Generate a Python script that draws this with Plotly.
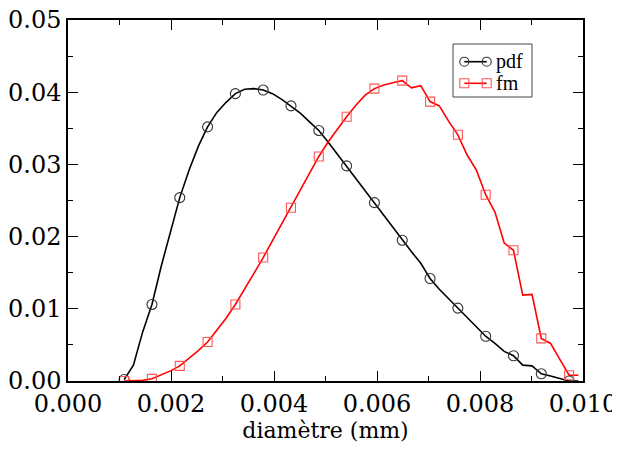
import plotly.graph_objects as go

# diameter grid (mm)
diam = [0.00109, 0.00127, 0.00145, 0.00163, 0.00181, 0.00199, 0.00217, 0.00235, 0.00253, 0.00271,
        0.00289, 0.00307, 0.00325, 0.00343, 0.00361, 0.00379, 0.00397, 0.00415, 0.00433, 0.00451,
        0.00469, 0.00487, 0.00505, 0.00523, 0.00541, 0.00559, 0.00577, 0.00595, 0.00613, 0.00631,
        0.00649, 0.00667, 0.00685, 0.00703, 0.00721, 0.00739, 0.00757, 0.00775, 0.00793, 0.00811,
        0.00829, 0.00847, 0.00865, 0.00883, 0.00901, 0.00919, 0.00937, 0.00955, 0.00973, 0.00991]

pdf = [0.0002, 0.0022, 0.0068, 0.0106, 0.0159, 0.0208, 0.0254, 0.0292, 0.0325, 0.0352,
       0.0372, 0.0386, 0.0398, 0.0404, 0.0405, 0.0403, 0.0398, 0.0390, 0.0381, 0.0371,
       0.0359, 0.0347, 0.0331, 0.0314, 0.0298, 0.0280, 0.0263, 0.0247, 0.0230, 0.0212,
       0.0195, 0.0179, 0.0163, 0.0142, 0.0127, 0.0114, 0.0101, 0.0087, 0.0074, 0.0062,
       0.0052, 0.0041, 0.0035, 0.0022, 0.0021, 0.0010, 0.0007, 0.0003, 0.0000, 0.0000]

fm = [0.0000, 0.0000, 0.0001, 0.0003, 0.0008, 0.0014, 0.0021, 0.0031, 0.0042, 0.0054,
      0.0070, 0.0087, 0.0106, 0.0127, 0.0149, 0.0171, 0.0194, 0.0217, 0.0240, 0.0264,
      0.0288, 0.0311, 0.0331, 0.0349, 0.0366, 0.0382, 0.0396, 0.0405, 0.0410, 0.0413,
      0.0416, 0.0406, 0.0409, 0.0387, 0.0381, 0.0360, 0.0341, 0.0313, 0.0292, 0.0258,
      0.0234, 0.0191, 0.0181, 0.0119, 0.0120, 0.0059, 0.0052, 0.0030, 0.0008, 0.0008]

series_names = ["pdf", "fm"]
x_ticks = [0.000, 0.002, 0.004, 0.006, 0.008, 0.010]
x_ticklabels = ["0.000", "0.002", "0.004", "0.006", "0.008", "0.010"]
y_ticks = [0.00, 0.01, 0.02, 0.03, 0.04, 0.05]
y_ticklabels = ["0.00", "0.01", "0.02", "0.03", "0.04", "0.05"]
x_title = "diamètre (mm)"

FONT = "Liberation Serif"
TICKFONT = "DejaVu Serif"
RED = "#ff0000"

fig = go.Figure()
# lines
fig.add_trace(go.Scatter(x=diam, y=pdf, mode="lines", line=dict(color="black", width=1.6),
                         hoverinfo="skip"))
fig.add_trace(go.Scatter(x=diam, y=fm, mode="lines", line=dict(color=RED, width=1.6),
                         hoverinfo="skip"))
# markers every 3rd point
fig.add_trace(go.Scatter(x=diam[:49:3], y=pdf[:49:3], mode="markers",
                         marker=dict(symbol="circle-open", size=10, color="#333333",
                                     line=dict(width=1.1))))
fig.add_trace(go.Scatter(x=diam[:49:3], y=fm[:49:3], mode="markers",
                         marker=dict(symbol="square-open", size=9, color="#ff5555",
                                     line=dict(width=1.1))))

# custom legend (xmgrace style)
bx0, bx1, by0, by1 = 0.7476, 0.901, 0.7867, 0.9335
fig.add_shape(type="rect", xref="paper", yref="paper", x0=bx0, x1=bx1, y0=by0, y1=by1,
              line=dict(color="#444444", width=1), fillcolor="white", layer="above")
rows = [(0.8845, "black", "#333333", "circle", series_names[0]),
        (0.8247, RED, "#ff5555", "rect", series_names[1])]
lx0, lx1 = 0.7695, 0.8130
for yy, lc, mc, shp, name in rows:
    fig.add_shape(type="line", xref="paper", yref="paper", x0=lx0, x1=lx1, y0=yy, y1=yy,
                  line=dict(color=lc, width=1.6), layer="above")
    for xx in (lx0, lx1):
        fig.add_shape(type=shp, xref="paper", yref="paper", xsizemode="pixel", ysizemode="pixel",
                      xanchor=xx, yanchor=yy, x0=-4.5, x1=4.5, y0=-4.5, y1=4.5,
                      line=dict(color=mc, width=1.1), fillcolor="rgba(0,0,0,0)", layer="above")
    fig.add_annotation(xref="paper", yref="paper", x=0.828, y=yy, text=name, showarrow=False,
                       xanchor="left", yanchor="middle", font=dict(family=FONT, size=20, color="black"))

axis_common = dict(showgrid=False, zeroline=False, showline=True, linecolor="black", linewidth=1.5,
                   mirror="allticks", ticks="inside", ticklen=10, tickwidth=1.3, tickcolor="black",
                   automargin=False, ticklabeloverflow="allow",
                   tickfont=dict(family=TICKFONT, size=24, color="black"))

fig.update_xaxes(range=[0, 0.010], tickvals=x_ticks, ticktext=x_ticklabels,
                 minor=dict(ticks="inside", ticklen=5, tickwidth=1.3, tickcolor="black",
                            tickvals=[0.001, 0.003, 0.005, 0.007, 0.009]),
                 title=dict(text=x_title, font=dict(family=TICKFONT, size=22, color="black"), standoff=2),
                 **axis_common)
fig.update_yaxes(range=[0, 0.05], tickvals=y_ticks, ticktext=y_ticklabels,
                 minor=dict(ticks="inside", ticklen=5, tickwidth=1.3, tickcolor="black",
                            tickvals=[0.005, 0.015, 0.025, 0.035, 0.045]),
                 **axis_common)

fig.update_layout(width=612, height=441, margin=dict(l=60, r=37, t=12, b=68),
                  plot_bgcolor="white", paper_bgcolor="white", showlegend=False,
                  font=dict(family=FONT, color="black"))

fig.write_html("out.html")
